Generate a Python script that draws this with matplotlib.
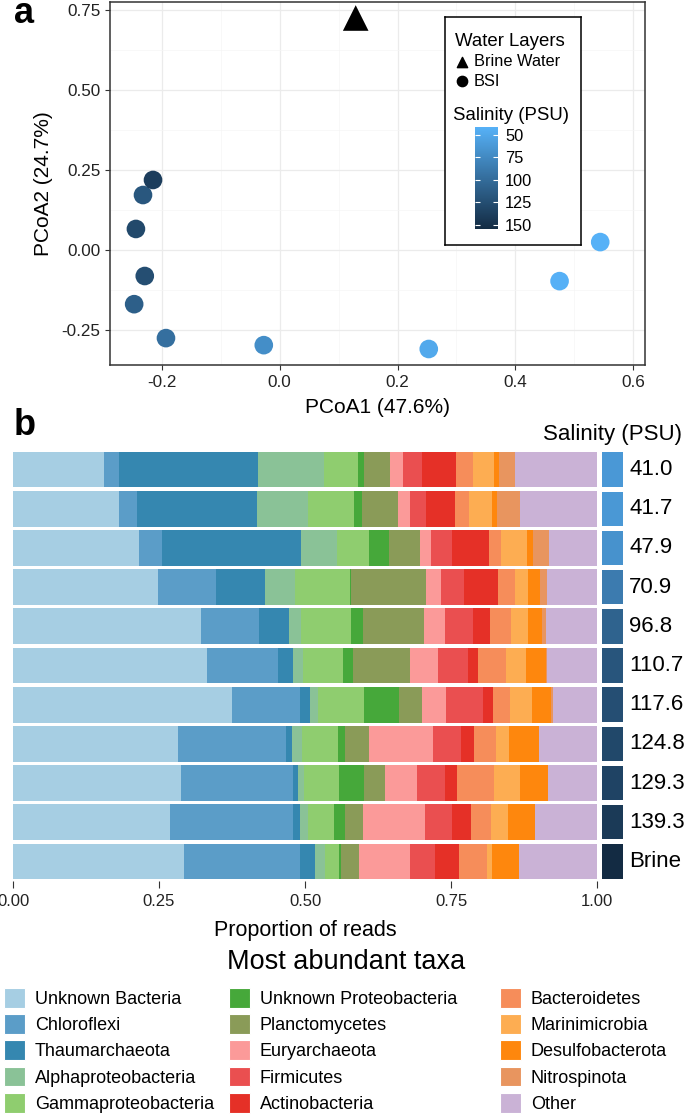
import numpy as np
import matplotlib.pyplot as plt
from matplotlib.colors import LinearSegmentedColormap, Normalize
from matplotlib.patches import Patch

plt.rcParams['font.family'] = ['Liberation Sans', 'DejaVu Sans']

W, H = 685, 1115

# ---- panel a: PCoA ----
pc1 = [0.544, 0.475, 0.253, -0.027, -0.193, -0.247, -0.232, -0.229, -0.244, -0.215]
pc2 = [0.025, -0.097, -0.309, -0.297, -0.275, -0.169, 0.172, -0.081, 0.066, 0.219]
point_salinity = [41.0, 41.7, 47.9, 70.9, 96.8, 110.7, 117.6, 124.8, 129.3, 139.3]
brine_pc1 = [0.129]
brine_pc2 = [0.725]
brine_salinity = 155.0

# ---- panel b: taxa proportions per sample ----
samples = ['41.0', '41.7', '47.9', '70.9', '96.8', '110.7', '117.6', '124.8', '129.3', '139.3', 'Brine']
sample_salinity = [41.0, 41.7, 47.9, 70.9, 96.8, 110.7, 117.6, 124.8, 129.3, 139.3, 155.0]

unknown_bacteria = [.155, .181, .216, .248, .322, .332, .375, .282, .288, .268, .292]
chloroflexi = [.027, .032, .039, .099, .100, .121, .116, .185, .191, .211, .199]
thaumarchaeota = [.237, .204, .239, .085, .050, .027, .018, .011, .009, .013, .026]
alphaproteobacteria = [.114, .088, .060, .051, .022, .016, .014, .017, .010, .013, .018]
gammaproteobacteria = [.058, .079, .056, .094, .085, .069, .078, .062, .061, .045, .024]
unknown_proteobacteria = [.010, .014, .033, .002, .021, .018, .060, .011, .042, .019, .002]
planctomycetes = [.045, .061, .054, .129, .104, .096, .039, .042, .036, .030, .032]
euryarchaeota = [.021, .021, .019, .025, .035, .048, .042, .110, .054, .107, .086]
firmicutes = [.033, .027, .036, .039, .048, .052, .062, .047, .049, .045, .043]
actinobacteria = [.058, .050, .063, .058, .030, .018, .018, .022, .021, .033, .042]
bacteroidetes = [.029, .023, .020, .029, .035, .047, .029, .038, .062, .035, .048]
marinimicrobia = [.037, .040, .045, .022, .029, .034, .037, .023, .045, .029, .008]
desulfobacterota = [.008, .009, .010, .021, .024, .034, .034, .051, .048, .046, .047]
nitrospinota = [.027, .039, .028, .012, .007, .002, .002, .000, .000, .000, .000]
other = [.141, .132, .082, .086, .088, .086, .078, .099, .084, .106, .133]

taxa = ['Unknown Bacteria', 'Chloroflexi', 'Thaumarchaeota', 'Alphaproteobacteria',
        'Gammaproteobacteria', 'Unknown Proteobacteria', 'Planctomycetes', 'Euryarchaeota',
        'Firmicutes', 'Actinobacteria', 'Bacteroidetes', 'Marinimicrobia',
        'Desulfobacterota', 'Nitrospinota', 'Other']
taxa_values = [unknown_bacteria, chloroflexi, thaumarchaeota, alphaproteobacteria,
               gammaproteobacteria, unknown_proteobacteria, planctomycetes, euryarchaeota,
               firmicutes, actinobacteria, bacteroidetes, marinimicrobia,
               desulfobacterota, nitrospinota, other]
taxa_colors = ['#a6cee3', '#5b9dc8', '#3587b0', '#8ac297', '#8fcd6f', '#46a83a', '#8a9b58',
               '#fb9a99', '#ea4f50', '#e53027', '#f68d5a', '#fdad52', '#fe870d', '#e8955f',
               '#cab2d6']

cmap_pts = LinearSegmentedColormap.from_list('sal', ['#56B1F7', '#132B43'])
cmap_tiles = LinearSegmentedColormap.from_list('sal_t', ['#4a98d6', '#132B43'])
norm = Normalize(vmin=41.0, vmax=brine_salinity)


def px_axes(fig, l, t, r, b):
    return fig.add_axes([l / W, 1 - b / H, (r - l) / W, (b - t) / H])


fig = plt.figure(figsize=(W / 100, H / 100), dpi=100)

# ---------------- panel a ----------------
ax = px_axes(fig, 110, 2, 645, 365)
ax.set_xlim(-0.288, 0.62)
ax.set_ylim(-0.359, 0.775)
ax.set_xticks([-0.2, 0.0, 0.2, 0.4, 0.6])
ax.set_xticklabels(['-0.2', '0.0', '0.2', '0.4', '0.6'])
ax.set_yticks([-0.25, 0.0, 0.25, 0.5, 0.75])
ax.set_yticklabels(['-0.25', '0.00', '0.25', '0.50', '0.75'])
ax.set_xticks([-0.1, 0.1, 0.3, 0.5], minor=True)
ax.set_yticks([-0.125, 0.125, 0.375, 0.625], minor=True)
ax.grid(True, which='major', color='#ebebeb', lw=0.9, zorder=0)
ax.grid(True, which='minor', color='#f5f5f5', lw=0.5, zorder=0)
ax.tick_params(which='minor', length=0)
ax.tick_params(which='major', length=3.5, color='#333333', labelsize=12.3, labelcolor='#222222')
for s in ax.spines.values():
    s.set_color('#333333')
    s.set_linewidth(1.1)
ax.set_axisbelow(True)

sc = ax.scatter(pc1, pc2, c=point_salinity, cmap=cmap_pts, norm=norm, s=180,
                edgecolors='none', zorder=3)
ax.scatter(brine_pc1, brine_pc2, marker='^', c='black', s=340, edgecolors='none', zorder=3)
ax.set_xlabel('PCoA1 (47.6%)', fontsize=15, labelpad=6)
ax.set_ylabel('PCoA2 (24.7%)', fontsize=15, labelpad=6)

fig.text(14 / W, 1 - 23 / H, 'a', fontsize=26, fontweight='bold', va='baseline')

# legend box for panel a
lax = px_axes(fig, 445, 17, 581, 245)
lax.set_xlim(445, 581)
lax.set_ylim(245, 17)
lax.set_xticks([])
lax.set_yticks([])
lax.set_facecolor('white')
for s in lax.spines.values():
    s.set_color('black')
    s.set_linewidth(1.1)
lax.text(455, 41, 'Water Layers', fontsize=13.4, va='center', ha='left')
lax.scatter([462], [62], marker='^', c='black', s=55)
lax.scatter([462], [81], marker='o', c='black', s=55)
lax.text(474, 62, 'Brine Water', fontsize=11.8, va='center', ha='left')
lax.text(474, 81, 'BSI', fontsize=11.8, va='center', ha='left')
lax.text(453, 115, 'Salinity (PSU)', fontsize=13.4, va='center', ha='left')

cax = px_axes(fig, 475, 127, 498, 229)
cb = fig.colorbar(sc, cax=cax)
cb.outline.set_visible(False)
cb.set_ticks([50, 75, 100, 125, 150])
cax.invert_yaxis()
cax.tick_params(which='both', left=True, right=True, direction='in', color='white',
                length=3.5, width=0.8, labelsize=11.8, pad=5)

# ---------------- panel b ----------------
n = len(samples)
rows = np.arange(n)
bx = px_axes(fig, 13, 450, 597, 881)
left = np.zeros(n)
for name, vals, col in zip(taxa, taxa_values, taxa_colors):
    bx.barh(rows, vals, left=left, height=0.91, color=col, edgecolor='none', label=name)
    left += np.array(vals)
bx.set_xlim(0, 1)
bx.set_ylim(n - 0.5, -0.5)
bx.set_yticks([])
bx.set_xticks([0, 0.25, 0.5, 0.75, 1.0])
bx.set_xticklabels(['0.00', '0.25', '0.50', '0.75', '1.00'])
bx.tick_params(axis='x', length=5, color='#333333', labelsize=12, labelcolor='#222222', pad=4)
for s in bx.spines.values():
    s.set_visible(False)
bx.set_xlabel('Proportion of reads', fontsize=15.5, labelpad=8)

fig.text(14 / W, 1 - 435 / H, 'b', fontsize=26, fontweight='bold', va='baseline')

tx = px_axes(fig, 602, 450, 623, 881)
tx.barh(rows, [1] * n, height=0.88, color=cmap_tiles(norm(np.array(sample_salinity))))
tx.set_xlim(0, 1)
tx.set_ylim(n - 0.5, -0.5)
tx.axis('off')
for r, lab in zip(rows, samples):
    tx.text(1.3, r, lab, fontsize=16, va='center', ha='left', transform=tx.get_yaxis_transform())
fig.text(682 / W, 1 - 440 / H, 'Salinity (PSU)', fontsize=16, ha='right', va='baseline')

# ---------------- legend ----------------
fig.text(0.505, 1 - 962 / H, 'Most abundant taxa', fontsize=19.5, ha='center', va='center')
handles = [Patch(facecolor=c, edgecolor='white', lw=0.8) for c in taxa_colors]
col_x = [4, 229, 500]
for k in range(3):
    hs = handles[k * 5:(k + 1) * 5]
    ls = taxa[k * 5:(k + 1) * 5]
    fig.legend(hs, ls, loc='upper left', bbox_to_anchor=(col_x[k] / W, 1 - 988 / H),
               frameon=False, fontsize=13, handlelength=1.15, handleheight=1.3,
               handletextpad=0.55, labelspacing=0.35, borderpad=0, borderaxespad=0)

fig.savefig('out.png', dpi=100)
